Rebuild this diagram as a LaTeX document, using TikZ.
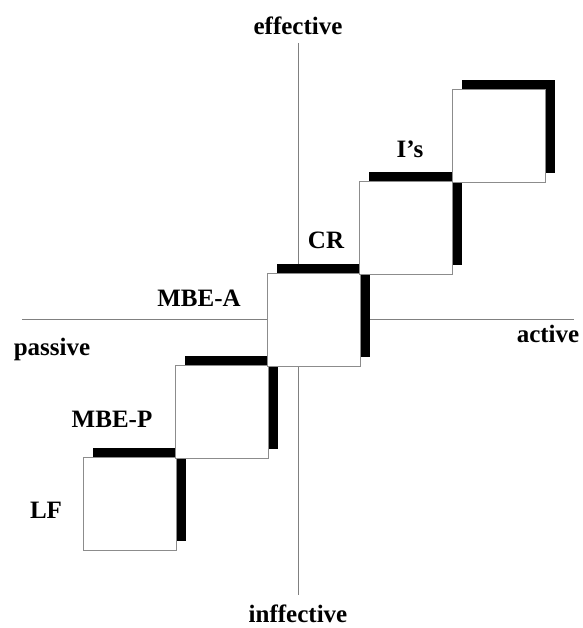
\documentclass[tikz,border=0pt]{standalone}
\usepackage{fontspec}
\setmainfont{Liberation Serif}
\begin{document}
\begin{tikzpicture}[x=1pt,y=-1pt,
  axis/.style={draw=black!50,line width=1pt},
  sq/.style={draw=black!45,line width=1pt,fill=white},
  shade/.style={fill=black},
  lbl/.style={anchor=base,inner sep=0pt,font=\fontsize{25}{30}\selectfont\bfseries}]
\useasboundingbox (0,0) rectangle (582,628);
\draw[axis] (22,319.5) coordinate (hl) -- (574,319.5) coordinate (hr);
\draw[axis] (298,43) coordinate (vt) -- (298,595) coordinate (vb);
\foreach \i in {0,...,4}{
  \pgfmathsetmacro{\L}{83+92.25*\i}
  \pgfmathsetmacro{\T}{457-91.75*\i}
  \fill[shade] (\L+9.5,\T-9.5) rectangle (\L+93+9.5,\T+93-9.5);
  \draw[sq] (\L,\T) rectangle (\L+93,\T+93);
}
\node[lbl] (eff) at (298,35) {effective};
\node[lbl] (inf) at (298,622) {inffective};
\node[lbl] (pas) at (52,355) {passive};
\node[lbl] (act) at (548,342) {active};
\node[lbl] (mbea) at (199,306) {MBE-A};
\node[lbl] (mbep) at (112,427) {MBE-P};
\node[lbl] (lf) at (46,518) {LF};
\node[lbl] (cr) at (326,248) {CR};
\node[lbl] (is) at (410,158) {I's};
\end{tikzpicture}
\end{document}
